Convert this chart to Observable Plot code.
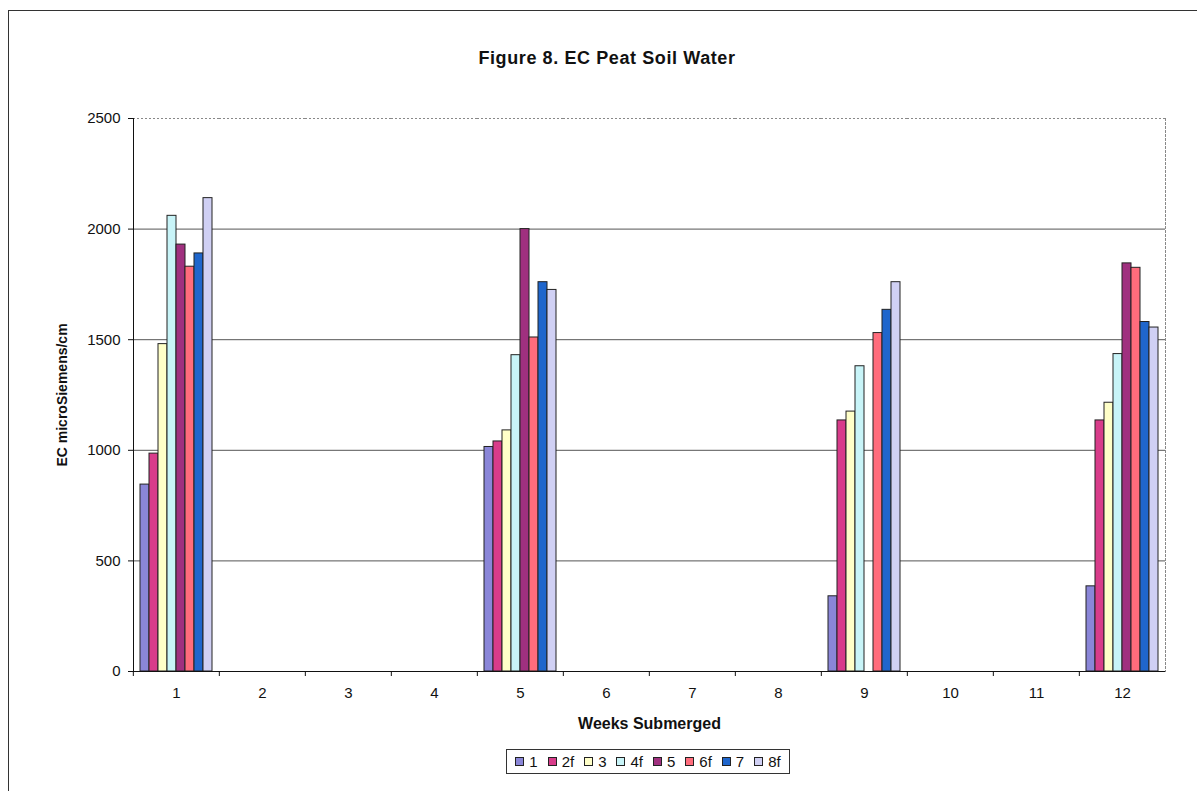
<!DOCTYPE html>
<html><head><meta charset="utf-8">
<script src="https://cdn.jsdelivr.net/npm/d3@7"></script>
<script src="https://cdn.jsdelivr.net/npm/@observablehq/plot@0.6"></script>
<style>
body{margin:0;background:#fff;font-family:"Liberation Sans",Arial,sans-serif;width:1197px;height:791px;overflow:hidden;position:relative;}
#frame{position:absolute;left:8px;top:10px;width:1195px;height:800px;border:1.5px solid #333;box-sizing:border-box;}
#title{position:absolute;left:0;top:48px;width:1214px;text-align:center;font-weight:bold;font-size:18px;letter-spacing:0.6px;color:#111;}
#chart{position:absolute;left:0;top:90px;}
#legend{position:absolute;left:506px;top:749px;width:284px;height:25px;border:1px solid #333;box-sizing:border-box;display:flex;align-items:center;justify-content:center;font-size:15px;color:#111;}
#legend .it{display:flex;align-items:center;margin:0 5px;}
#legend .sw{width:9px;height:9px;box-sizing:border-box;border:1px solid #222;margin-right:5px;}
</style></head>
<body>
<div id="frame"></div>
<div id="title">Figure 8. EC Peat Soil Water</div>
<div id="chart"></div>
<div id="legend"></div>
<script>
const weeks = [1,2,3,4,5,6,7,8,9,10,11,12];
const series = ["1","2f","3","4f","5","6f","7","8f"];
const colors = ["#8a86d8","#d83c8a","#ffffc8","#c8f4f8","#a0307f","#ff6c7c","#1f66cc","#d0d0f4"];
const s1  = [845,0,0,0,1015,0,0,0,340,0,0,385];
const s2f = [985,0,0,0,1040,0,0,0,1135,0,0,1135];
const s3  = [1480,0,0,0,1090,0,0,0,1175,0,0,1215];
const s4f = [2060,0,0,0,1430,0,0,0,1380,0,0,1435];
const s5  = [1930,0,0,0,2000,0,0,0,null,0,0,1845];
const s6f = [1830,0,0,0,1510,0,0,0,1530,0,0,1825];
const s7  = [1890,0,0,0,1760,0,0,0,1635,0,0,1580];
const s8f = [2140,0,0,0,1725,0,0,0,1760,0,0,1555];
const yTicks = [0,500,1000,1500,2000,2500];
const values = [s1,s2f,s3,s4f,s5,s6f,s7,s8f];

const data = [];
weeks.forEach((w,i)=>series.forEach((s,j)=>{
  if (values[j][i] != null) data.push({week:w, series:s, value:values[j][i]});
}));

const W = 1197, H = 660, mL = 131, mR = 30, mT = 28, mB = 79;
const band = (W - mL - mR) / weeks.length;

const chart = Plot.plot({
  width: W, height: H, marginLeft: mL, marginRight: mR, marginTop: mT, marginBottom: mB,
  style: {fontFamily: "'Liberation Sans', Arial, sans-serif", fontSize: "15px", color: "#111", background: "transparent", overflow: "visible"},
  fx: {domain: weeks, padding: 0},
  x: {domain: series, paddingInner: 0, paddingOuter: 0.55, axis: null},
  y: {domain: [0, 2500]},
  color: {domain: series, range: colors},
  marks: [
    Plot.gridY({ticks: [500,1000,1500,2000], stroke: "#555", strokeOpacity: 1}),
    Plot.ruleY([2500], {stroke: "#888", strokeDasharray: "2,2"}),
    Plot.frame({anchor: "right", facet: "super", stroke: "#888", strokeDasharray: "2,2"}),
    Plot.barY(data, {fx: "week", x: "series", y: "value", fill: "series", stroke: "#222", strokeWidth: 1}),
    Plot.ruleY([0], {stroke: "#111"}),
    Plot.frame({anchor: "left", facet: "super", stroke: "#111"}),
    Plot.axisY({ticks: yTicks, tickFormat: d => String(d), tickSize: 5, tickPadding: 8, label: null}),
    Plot.axisY({ticks: [], label: "EC microSiemens/cm", labelAnchor: "center", labelArrow: "none", labelOffset: 76, fontWeight: "bold", fontSize: 14}),
    Plot.axisFx({anchor: "bottom", tickSize: 0, tickPadding: 16, label: null}),
    Plot.axisFx({anchor: "bottom", tickSize: 5, tickFormat: () => "", dx: -band/2, label: null}),
    Plot.axisFx({anchor: "bottom", tickSize: 0, tickFormat: () => "", label: "Weeks Submerged", labelAnchor: "center", labelArrow: "none", labelOffset: 57, fontWeight: "bold", fontSize: 16})
  ]
});
document.getElementById("chart").appendChild(chart);

const lg = document.getElementById("legend");
series.forEach((s,i)=>{
  const it = document.createElement("div"); it.className = "it";
  const sw = document.createElement("div"); sw.className = "sw"; sw.style.background = colors[i];
  const t = document.createElement("span"); t.textContent = s;
  it.appendChild(sw); it.appendChild(t); lg.appendChild(it);
});
</script>
</body></html>
